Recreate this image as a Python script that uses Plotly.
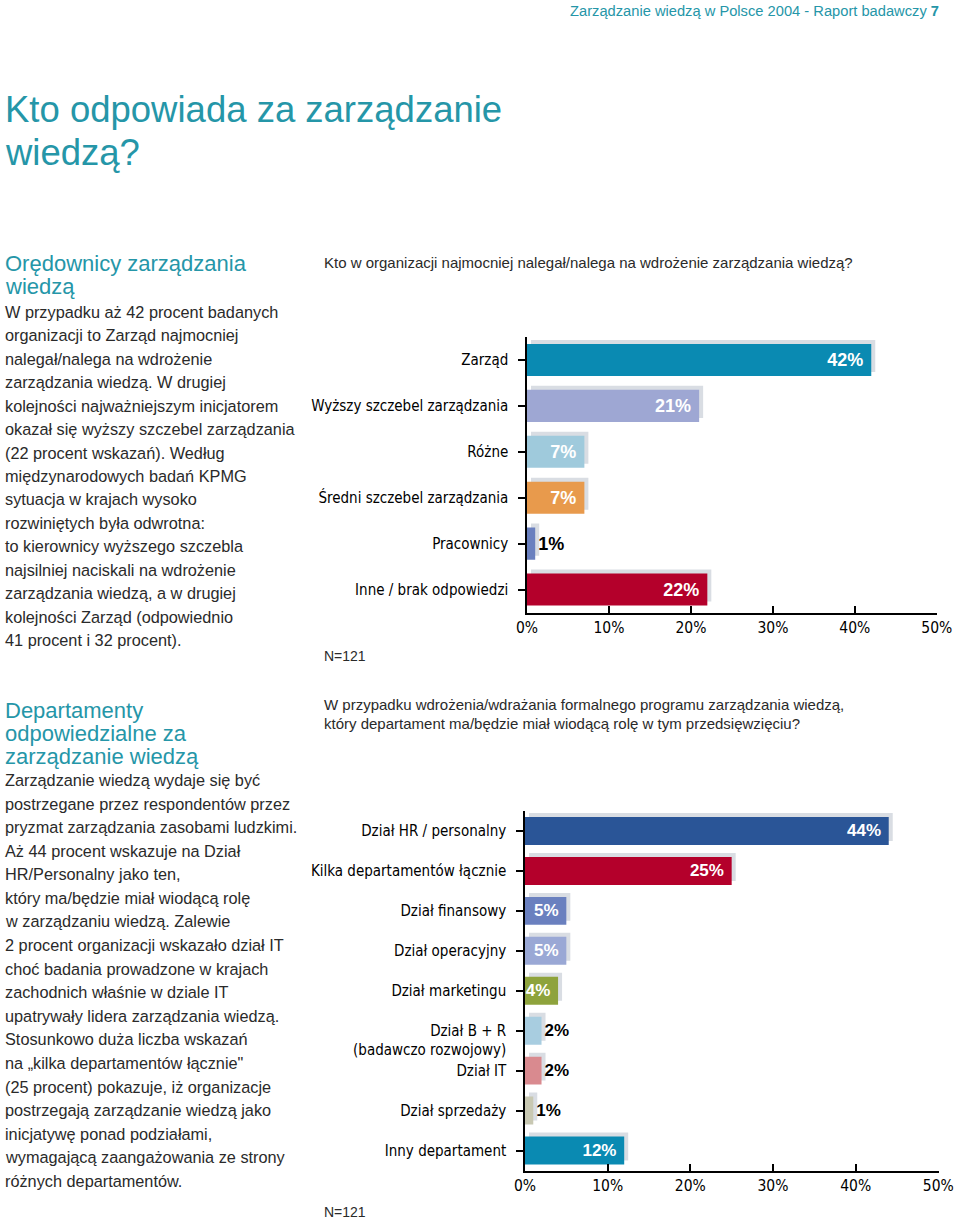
import plotly.graph_objects as go

W, H = 960, 1220

# ---------------- data ----------------
c1_categories = ["Zarząd", "Wyższy szczebel zarządzania", "Różne",
                 "Średni szczebel zarządzania", "Pracownicy", "Inne / brak odpowiedzi"]
c1_values = [42, 21, 7, 7, 1, 22]
c1_colors = ["#0a8ab2", "#9ea7d3", "#9fcadc", "#e89a4c", "#6a80bf", "#b4002b"]

c2_categories = ["Dział HR / personalny", "Kilka departamentów łącznie", "Dział finansowy",
                 "Dział operacyjny", "Dział marketingu", "Dział B + R (badawczo rozwojowy)",
                 "Dział IT", "Dział sprzedaży", "Inny departament"]
c2_ticklabels = ["Dział HR / personalny", "Kilka departamentów łącznie", "Dział finansowy",
                 "Dział operacyjny", "Dział marketingu",
                 "\u00a0<br>Dział B + R<br>(badawczo rozwojowy)",
                 "Dział IT", "Dział sprzedaży", "Inny departament"]
c2_values = [44, 25, 5, 5, 4, 2, 2, 1, 12]
c2_colors = ["#2a5597", "#b4002b", "#6a80bf", "#9aa8d5", "#8ea33c",
             "#a8cde0", "#d98a8f", "#c8c8b2", "#0a8ab2"]

x_tickvals = [0, 10, 20, 30, 40, 50]
x_ticktext = ["0%", "10%", "20%", "30%", "40%", "50%"]

header_text = "Zarządzanie wiedzą w Polsce 2004 - Raport badawczy <b>7</b>"
title_lines = ["Kto odpowiada za zarządzanie", "wiedzą?"]
sec1_heading = ["Orędownicy zarządzania", "wiedzą"]
sec1_body = [
    "W przypadku aż 42 procent badanych",
    "organizacji to Zarząd najmocniej",
    "nalegał/nalega na wdrożenie",
    "zarządzania wiedzą. W drugiej",
    "kolejności najważniejszym inicjatorem",
    "okazał się wyższy szczebel zarządzania",
    "(22 procent wskazań). Według",
    "międzynarodowych badań KPMG",
    "sytuacja w krajach wysoko",
    "rozwiniętych była odwrotna:",
    "to kierownicy wyższego szczebla",
    "najsilniej naciskali na wdrożenie",
    "zarządzania wiedzą, a w drugiej",
    "kolejności Zarząd (odpowiednio",
    "41 procent i 32 procent).",
]
sec2_heading = ["Departamenty", "odpowiedzialne za", "zarządzanie wiedzą"]
sec2_body = [
    "Zarządzanie wiedzą wydaje się być",
    "postrzegane przez respondentów przez",
    "pryzmat zarządzania zasobami ludzkimi.",
    "Aż 44 procent wskazuje na Dział",
    "HR/Personalny jako ten,",
    "który ma/będzie miał wiodącą rolę",
    "w zarządzaniu wiedzą. Zalewie",
    "2 procent organizacji wskazało dział IT",
    "choć badania prowadzone w krajach",
    "zachodnich właśnie w dziale IT",
    "upatrywały lidera zarządzania wiedzą.",
    "Stosunkowo duża liczba wskazań",
    "na „kilka departamentów łącznie\"",
    "(25 procent) pokazuje, iż organizacje",
    "postrzegają zarządzanie wiedzą jako",
    "inicjatywę ponad podziałami,",
    "wymagającą zaangażowania ze strony",
    "różnych departamentów.",
]
q1_lines = ["Kto w organizacji najmocniej nalegał/nalega na wdrożenie zarządzania wiedzą?"]
q2_lines = ["W przypadku wdrożenia/wdrażania formalnego programu zarządzania wiedzą,",
            "który departament ma/będzie miał wiodącą rolę w tym przedsięwzięciu?"]
n_label = "N=121"

# ---------------- style ----------------
TEAL = "#2596a8"
BODY = "#2a2a2a"
NARROW = "DejaVu Sans Condensed, Liberation Sans, sans-serif"
SANS = "Liberation Sans, Arial, sans-serif"
SHADOW = "#d9dde3"


def px(x):
    return x / W


def py(y):
    return 1 - y / H


fig = go.Figure()


def add_chart(cats, vals, colors, xa, ya, size, px_per_cat, px_per_unit):
    shift_y = 4.0 / px_per_cat
    shift_x = 4.0 / px_per_unit
    fig.add_trace(go.Bar(
        y=cats, x=vals, base=shift_x, orientation="h", width=0.7,
        offset=-0.35 - shift_y, marker=dict(color=SHADOW, line=dict(width=0)),
        hoverinfo="skip", xaxis=xa, yaxis=ya, showlegend=False))
    positions = ["inside" if v >= 3 else "outside" for v in vals]
    tcolors = ["white" if v >= 3 else "black" for v in vals]
    fig.add_trace(go.Bar(
        y=cats, x=vals, orientation="h", width=0.7,
        marker=dict(color=colors, line=dict(width=0)),
        text=[f"{v}%\u00a0" if v >= 3 else f"{v}%" for v in vals],
        textposition=positions, insidetextanchor="end",
        textfont=dict(family=SANS, size=size, color=tcolors, weight="bold"),
        cliponaxis=False, constraintext="none",
        xaxis=xa, yaxis=ya, showlegend=False))


add_chart(c1_categories, c1_values, c1_colors, "x", "y", 18, 45.8, 8.2)
add_chart(c2_categories, c2_values, c2_colors, "x2", "y2", 17, 39.9, 8.27)

xcommon = dict(range=[0, 50.02], tickvals=x_tickvals, ticktext=x_ticktext,
               tickmode="array", automargin=False,
               showline=True, linecolor="black", linewidth=1.5,
               ticks="inside", ticklen=7, tickcolor="black", tickwidth=1.5,
               showgrid=False, zeroline=False, fixedrange=True,
               tickfont=dict(family=NARROW, size=15.5, color="black"))
ycommon = dict(showline=True, linecolor="black", linewidth=1.5, automargin=False,
               ticks="outside", ticklen=7, tickcolor="black", tickwidth=1.5,
               ticklabelstandoff=7,
               showgrid=False, zeroline=False, autorange="reversed",
               tickfont=dict(family=NARROW, size=15, color="black"))

fig.update_layout(
    template="none",
    width=W, height=H, margin=dict(l=0, r=0, t=0, b=0, pad=0, autoexpand=False),
    paper_bgcolor="white", plot_bgcolor="white", barmode="overlay",
    showlegend=False,
    xaxis=dict(domain=[px(527), px(937)], anchor="y", **xcommon),
    yaxis=dict(domain=[py(612.5), py(337)], anchor="x", **ycommon),
    xaxis2=dict(domain=[px(525), px(938.5)], anchor="y2", **xcommon),
    yaxis2=dict(domain=[py(1170.5), py(811)], anchor="x2",
                tickmode="array", tickvals=c2_categories, ticktext=c2_ticklabels,
                **ycommon),
)

ann = []


def text(x, y, t, size, color, family=SANS, xanchor="left"):
    ann.append(dict(x=px(x), y=py(y), xref="paper", yref="paper", text=t,
                    showarrow=False, xanchor=xanchor, yanchor="middle",
                    borderpad=0,
                    font=dict(family=family, size=size, color=color)))


text(940, 11, header_text, 14.7, TEAL, xanchor="right")
for i, line in enumerate(title_lines):
    text(4, 110 + 42 * i, line, 36.5, TEAL)
for i, line in enumerate(sec1_heading):
    text(4, 263 + 24 * i, line, 22, TEAL)
for i, line in enumerate(sec1_body):
    text(4, 312 + 23.43 * i, line, 16.3, BODY)
for i, line in enumerate(sec2_heading):
    text(4, 710 + 23.5 * i, line, 22, TEAL)
for i, line in enumerate(sec2_body):
    text(4, 780 + 23.58 * i, line, 16.3, BODY)
for i, line in enumerate(q1_lines):
    text(323, 262, line, 15, BODY)
for i, line in enumerate(q2_lines):
    text(323, 704 + 19 * i, line, 15, BODY)
text(323, 656, n_label, 14, BODY)
text(323, 1212, n_label, 14, BODY)

fig.update_layout(annotations=ann)
fig.write_html(
    "out.html",
    config={"responsive": False, "displayModeBar": False},
    post_script="document.body.style.margin='0';document.body.style.overflow='hidden';",
)
